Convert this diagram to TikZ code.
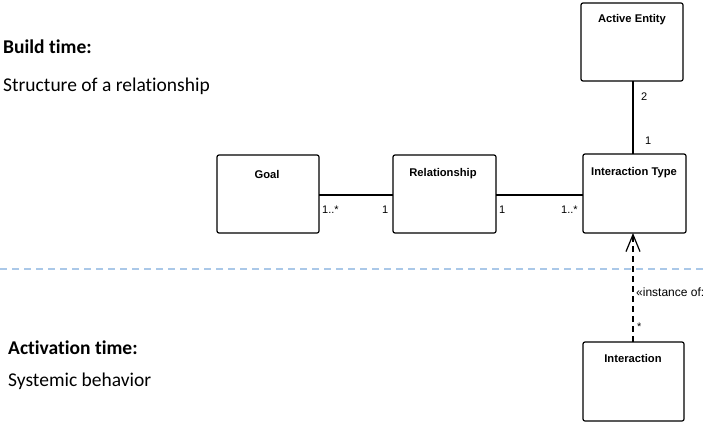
\documentclass[tikz,border=0pt]{standalone}
\usepackage{fontspec}
\setmainfont[Ligatures=NoCommon]{Carlito}
\newfontfamily\arialf{Liberation Sans}
\usetikzlibrary{arrows.meta}
\begin{document}
\begin{tikzpicture}[x=1pt,y=-1pt,
  cls/.style={draw,line width=1.2pt,rounded corners=2pt},
  ttl/.style={font=\arialf\bfseries\fontsize{11.2}{13}\selectfont,anchor=center},
  mult/.style={font=\arialf\fontsize{11}{13}\selectfont,inner sep=0pt},
  conn/.style={line width=1.2pt},
  hdr/.style={anchor=west,inner sep=0pt,font=\bfseries\fontsize{19.5}{23}\selectfont},
  sub/.style={anchor=west,inner sep=0pt,font=\fontsize{19.5}{23}\selectfont}]
\useasboundingbox (0,0) rectangle (708,423);
% boxes
\draw[cls] (581,3) rectangle (683,81);
\node[ttl] (aet) at (632,20) {Active Entity};
\draw[cls] (217,155) rectangle (319,233);
\node[ttl] (gt) at (267,174) {Goal};
\draw[cls] (393,155) rectangle (496,233);
\node[ttl] (rt) at (443,174) {Relationship};
\draw[cls] (583,154) rectangle (686,233);
\node[ttl] (itt) at (634,173) {Interaction Type};
\draw[cls] (583,342) rectangle (684,421);
\node[ttl] (it) at (633,358) {Interaction};
% coordinates
\coordinate (ae) at (633,81);
\coordinate (itTop) at (633,154);
\coordinate (gR) at (319,195);
\coordinate (rL) at (393,195);
\coordinate (rR) at (496,195);
\coordinate (itL) at (583,195);
\coordinate (itB) at (633,233);
\coordinate (inT) at (633,342);
% connectors
\draw[conn] (ae) -- (itTop);
\draw[conn] (gR) -- (rL);
\draw[conn] (rR) -- (itL);
\draw[conn,dash pattern=on 6pt off 4pt,-{Straight Barb[length=17pt,width=14pt,line width=1.2pt]}] (inT) -- (itB);
% separator
\coordinate (sepL) at (0,269);
\coordinate (sepR) at (708,269);
\draw[color={rgb,255:red,170;green,200;blue,232},line width=1.2pt,dash pattern=on 7pt off 5pt] (sepL) -- (sepR);
% multiplicities
\node[mult,anchor=west] (m1) at (641,97) {2};
\node[mult,anchor=west] (m2) at (645,141) {1};
\node[mult,anchor=west] (m3) at (322,210) {1..*};
\node[mult,anchor=west] (m4) at (382,210) {1};
\node[mult,anchor=west] (m5) at (499,210) {1};
\node[mult,anchor=west] (m6) at (561,210) {1..*};
\node[mult,anchor=west,font=\arialf\fontsize{12}{14}\selectfont] (m7) at (636,292) {«instance of:};
\node[mult,anchor=west] (m8) at (637,327) {*};
% headings
\node[hdr] (bt) at (3,47) {Build time:};
\node[sub] (sr) at (3,86) {Structure of a relationship};
\node[hdr] (at) at (8,348) {Activation time:};
\node[sub] (sb) at (8,381) {Systemic behavior};
\end{tikzpicture}
\end{document}
